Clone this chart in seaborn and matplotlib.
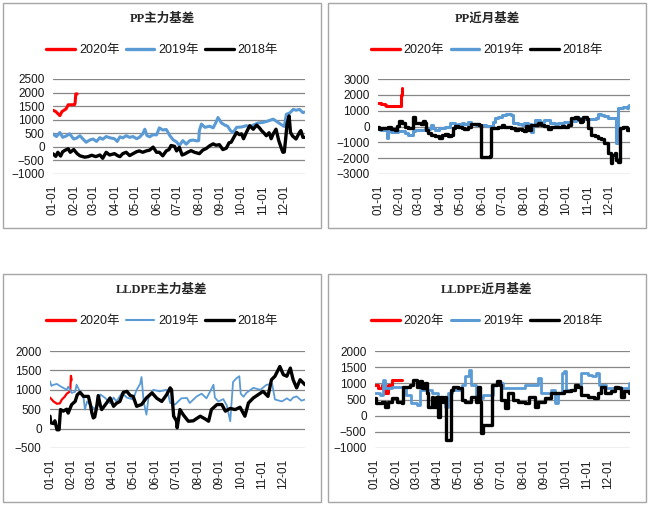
import numpy as np
import pandas as pd
import matplotlib
matplotlib.use('Agg')
from matplotlib import pyplot as plt
from matplotlib.patches import Rectangle
from matplotlib.lines import Line2D
import seaborn as sns

# ---- data (day of year, value) ----
months = ['01-01', '02-01', '03-01', '04-01', '05-01', '06-01',
          '07-01', '08-01', '09-01', '10-01', '11-01', '12-01']
month_days = [0, 31, 59, 90, 120, 151, 181, 212, 243, 273, 304, 334]
years = ['2020年', '2019年', '2018年']

# PP主力基差
pp_main_2020_x = [0, 4, 8, 10, 13, 16, 19, 22, 26, 31, 32, 33, 35]
pp_main_2020_y = [1350, 1300, 1200, 1150, 1300, 1350, 1400, 1550, 1550, 1550, 1600, 1950, 1950]
pp_main_2019_x = [0, 5, 10, 14, 19, 24, 30, 34, 39, 43, 48, 53, 58, 63, 68, 72, 77, 83, 89, 93,
                  97, 101, 106, 111, 116, 121, 125, 130, 133, 136, 140, 145, 150, 154, 159, 164,
                  166, 169, 174, 179, 183, 188, 193, 198, 203, 208, 211, 212, 215, 220, 227, 232,
                  236, 239, 244, 249, 253, 257, 261, 266, 273, 280, 285, 290, 297, 304, 311, 319,
                  326, 333, 335, 338, 343, 348, 352, 357, 362, 364]
pp_main_2019_y = [470, 380, 530, 350, 400, 480, 290, 320, 410, 300, 170, 250, 290, 200, 340, 280,
                  380, 330, 300, 200, 370, 330, 410, 350, 380, 300, 350, 480, 650, 420, 370, 450,
                  440, 700, 620, 640, 560, 420, 260, 180, 50, 230, 100, 230, 250, 220, 230, 600,
                  840, 720, 760, 700, 900, 1080, 880, 800, 760, 600, 530, 720, 730, 780, 740, 800,
                  880, 900, 950, 1020, 900, 780, 750, 1200, 1250, 1380, 1350, 1380, 1260, 1280]
pp_main_2018_x = [0, 4, 7, 11, 14, 18, 22, 25, 30, 35, 39, 46, 51, 56, 62, 68, 72, 77, 82, 89,
                  94, 97, 101, 106, 111, 116, 121, 125, 130, 135, 140, 145, 150, 154, 159, 164,
                  168, 171, 176, 179, 183, 187, 191, 195, 200, 205, 212, 217, 222, 227, 232, 236,
                  241, 246, 251, 255, 258, 263, 266, 270, 273, 276, 280, 285, 290, 295, 299, 302,
                  306, 309, 313, 316, 319, 323, 327, 331, 333, 335, 337, 339, 342, 344, 347, 352,
                  357, 359, 362, 364]
pp_main_2018_y = [-255, -350, -200, -340, -180, -120, -70, -200, -100, -250, -330, -380, -360,
                  -310, -360, -300, -420, -200, -300, -250, -330, -360, -250, -200, -320, -250,
                  -180, -150, -200, -150, -120, -10, -200, -200, -330, -150, -100, 50, 20, -150,
                  -20, -300, -260, -200, -140, -200, -250, -120, -60, 40, 110, 60, 80, -100, -50,
                  150, 170, 400, 530, 450, 480, 300, 530, 780, 650, 800, 700, 600, 500, 410, 520,
                  300, 480, 650, 230, -70, -200, -190, 300, 840, 1140, 530, 400, 290, 530, 600,
                  350, 350]

# PP近月基差
pp_near_2020_x = [0, 5, 10, 12, 17, 24, 33, 34, 35]
pp_near_2020_y = [1480, 1450, 1370, 1300, 1320, 1310, 1310, 2000, 2450]
pp_near_2019_x = [0, 5, 10, 12, 13, 14, 19, 29, 39, 43, 48, 51, 53, 60, 68, 75, 77, 80, 82, 89,
                  97, 104, 111, 116, 121, 125, 130, 135, 142, 150, 157, 164, 166, 169, 174, 179,
                  186, 193, 195, 203, 208, 212, 217, 222, 224, 227, 234, 241, 249, 256, 261, 270,
                  280, 287, 290, 297, 304, 311, 316, 319, 323, 328, 333, 340, 343, 345, 347, 348,
                  355, 360, 362, 364]
pp_near_2019_y = [-170, -200, -250, -200, -740, -250, -320, -300, -420, -530, -530, -300, -250,
                  -200, -150, -100, 100, -100, -210, -100, 0, 210, 100, 150, 250, 150, 300, 150,
                  100, 100, 50, 40, 300, 530, 600, 740, 760, 740, 210, 150, 100, 200, 150, -320,
                  100, 380, 300, 380, 250, 150, 250, 300, 320, 400, 530, 500, 450, 500, 550, 780,
                  700, 680, 550, 550, 530, -1060, 300, 1160, 1200, 1150, 1300, 1370]
pp_near_2018_x = [0, 2, 5, 10, 14, 19, 24, 28, 31, 35, 39, 43, 48, 51, 53, 58, 63, 65, 68, 70,
                  72, 77, 82, 89, 92, 97, 101, 106, 109, 111, 116, 121, 125, 130, 135, 140, 147,
                  149, 154, 162, 164, 169, 174, 179, 183, 188, 193, 198, 203, 208, 212, 215, 217,
                  222, 232, 236, 241, 246, 251, 256, 261, 266, 270, 275, 280, 285, 290, 292, 295,
                  297, 302, 304, 309, 314, 319, 323, 328, 333, 337, 339, 343, 345, 348, 350, 355,
                  360, 364]
pp_near_2018_y = [0, -150, -100, -100, 0, -150, -210, 50, 320, 250, 0, -100, -100, 590, 210,
                  200, 170, 350, 200, -200, -420, -550, -630, -740, -550, -450, -600, -530, -100,
                  50, -50, -100, -150, 0, 150, 170, 120, -1900, -1900, -1850, -110, -100, -50,
                  100, 0, -50, -100, -200, -150, -210, -300, 50, -200, 100, 200, 100, 50, -150,
                  -50, 0, -50, 50, 0, 100, 530, 580, 500, 300, 350, 600, 500, -100, -530, -600,
                  -740, -800, -1060, -1690, -2320, -1800, -1700, -2110, -2250, -100, -50, -200,
                  -170]

# LLDPE主力基差
ll_main_2020_x = [0, 5, 10, 14, 17, 21, 24, 28, 29, 30, 31]
ll_main_2020_y = [800, 700, 640, 650, 750, 820, 900, 950, 980, 1360, 1250]
ll_main_2019_x = [0, 2, 5, 10, 14, 19, 24, 26, 31, 36, 38, 43, 48, 50, 53, 57, 64, 69, 72, 79,
                  86, 91, 95, 103, 110, 119, 124, 129, 131, 134, 138, 141, 148, 157, 167, 169,
                  172, 179, 188, 196, 200, 210, 217, 224, 229, 234, 236, 241, 248, 253, 258, 260,
                  262, 267, 271, 273, 277, 281, 291, 301, 310, 318, 322, 332, 339, 344, 348, 353,
                  360, 365]
ll_main_2019_y = [1220, 1100, 1130, 1150, 1100, 1050, 1000, 1080, 920, 950, 1130, 950, 800, 490,
                  700, 620, 500, 700, 880, 790, 650, 800, 700, 920, 800, 750, 1000, 1150, 1330,
                  700, 360, 800, 1000, 960, 1000, 900, 660, 620, 780, 790, 660, 830, 900, 780,
                  950, 1130, 800, 700, 760, 600, 190, 700, 1200, 1300, 1350, 900, 820, 920, 1050,
                  1000, 1130, 1150, 750, 700, 780, 720, 800, 830, 720, 750]
ll_main_2018_x = [0, 1, 5, 7, 10, 13, 15, 19, 24, 26, 31, 36, 39, 43, 48, 55, 58, 60, 62, 64,
                  67, 69, 72, 74, 81, 86, 91, 95, 100, 105, 110, 115, 119, 124, 131, 138, 146,
                  153, 160, 167, 172, 174, 177, 181, 182, 186, 191, 198, 205, 215, 222, 227, 231,
                  239, 246, 251, 258, 265, 272, 279, 284, 291, 298, 305, 312, 317, 322, 329, 334,
                  339, 344, 348, 353, 358, 365]
ll_main_2018_y = [320, 150, 130, 200, -30, -30, 490, 450, 500, 400, 620, 700, 870, 935, 830, 830,
                  600, 400, 275, 300, 575, 850, 600, 490, 660, 790, 575, 650, 700, 935, 960, 850,
                  830, 575, 620, 790, 920, 780, 700, 875, 1050, 1000, 320, 200, 20, 490, 350,
                  190, 200, 320, 250, 190, 490, 620, 620, 450, 520, 490, 550, 320, 660, 790, 875,
                  960, 830, 1260, 1350, 1600, 1390, 1350, 1560, 1260, 1050, 1260, 1130]

# LLDPE近月基差
ll_near_2020_x = [0, 5, 10, 14, 19, 24, 38]
ll_near_2020_y = [955, 850, 955, 700, 955, 1110, 1110]
ll_near_2019_x = [0, 7, 12, 14, 24, 38, 45, 52, 60, 64, 71, 81, 90, 100, 105, 110, 119, 124, 129,
                  134, 138, 143, 145, 155, 164, 169, 176, 183, 195, 205, 214, 226, 233, 238, 252,
                  257, 262, 267, 271, 274, 286, 290, 295, 305, 310, 317, 321, 331, 343, 352, 364]
ll_near_2019_y = [700, 650, 1110, 850, 900, 900, 640, 385, 330, 800, 800, 700, 435, 280, 700,
                  800, 800, 955, 1215, 1420, 955, 955, 540, 640, 640, 955, 1005, 850, 850, 850,
                  955, 955, 1160, 700, 800, 385, 700, 1320, 1370, 800, 955, 900, 1320, 1265,
                  1215, 1320, 955, 850, 900, 850, 1005]
ll_near_2018_x = [0, 2, 10, 14, 19, 24, 31, 39, 40, 50, 55, 60, 64, 67, 71, 74, 76, 81, 83, 88,
                  90, 93, 98, 100, 101, 107, 109, 112, 119, 124, 129, 138, 145, 148, 150, 152,
                  155, 167, 168, 174, 179, 181, 186, 190, 198, 205, 214, 221, 229, 233, 243, 252,
                  262, 271, 281, 286, 290, 295, 305, 314, 319, 324, 329, 338, 343, 348, 352, 357,
                  364]
ll_near_2018_y = [540, 385, 435, 280, 435, 540, 435, 385, 900, 955, 1110, 900, 1060, 850, 1005,
                  700, 280, 590, 280, 590, -30, 590, 435, 590, -760, -760, 800, 900, 850, 490,
                  435, 590, 435, 900, 435, -550, -290, -290, 955, 1060, 955, 490, 230, 700, 490,
                  435, 385, 590, 280, 435, 540, 700, 700, 750, 800, 955, 900, 645, 590, 540, 700,
                  900, 700, 750, 900, 850, 590, 750, 700]

colors = ['#FF0000', '#5B9BD5', '#000000']

panels = [
    dict(title='PP主力基差', box=(3, 3, 321, 228), ax=(53, 79, 305, 174),
         ylim=(-1000, 2500), step=500, lws=[2.2, 2.2, 2.4], ds='default',
         series=[(pp_main_2020_x, pp_main_2020_y), (pp_main_2019_x, pp_main_2019_y),
                 (pp_main_2018_x, pp_main_2018_y)]),
    dict(title='PP近月基差', box=(328, 3, 646, 228), ax=(378, 79, 630, 174),
         ylim=(-3000, 3000), step=1000, lws=[2.2, 2.2, 2.4], ds='steps-post',
         series=[(pp_near_2020_x, pp_near_2020_y), (pp_near_2019_x, pp_near_2019_y),
                 (pp_near_2018_x, pp_near_2018_y)]),
    dict(title='LLDPE主力基差', box=(3, 274, 321, 502), ax=(50, 351, 305, 448),
         ylim=(-500, 2000), step=500, lws=[1.6, 1.3, 2.4], ds='default',
         series=[(ll_main_2020_x, ll_main_2020_y), (ll_main_2019_x, ll_main_2019_y),
                 (ll_main_2018_x, ll_main_2018_y)]),
    dict(title='LLDPE近月基差', box=(328, 274, 646, 502), ax=(375, 351, 630, 448),
         ylim=(-1000, 2000), step=500, lws=[2.2, 2.0, 2.4], ds='steps-post',
         series=[(ll_near_2020_x, ll_near_2020_y), (ll_near_2019_x, ll_near_2019_y),
                 (ll_near_2018_x, ll_near_2018_y)]),
]

sns.set_theme(style='white')
plt.rcParams['font.family'] = ['Liberation Sans', 'Noto Sans CJK SC', 'DejaVu Sans']

W, H = 650, 505
fig = plt.figure(figsize=(W / 100, H / 100), dpi=100)


def fx(px):
    return px / W


def fy(py):
    return 1 - py / H


for p in panels:
    x0, y0, x1, y1 = p['box']
    fig.patches.append(Rectangle((fx(x0), fy(y1)), fx(x1 - x0), (y1 - y0) / H,
                                 transform=fig.transFigure, fill=False,
                                 edgecolor='#A6A6A6', lw=1.0))
    l, t, r, b = p['ax']
    ax = fig.add_axes([fx(l), fy(b), fx(r - l), (b - t) / H])

    handles = []
    for (xs, ys), c, lw, name in zip(p['series'], colors, p['lws'], years):
        df = pd.DataFrame({'day': xs, 'val': ys})
        sns.lineplot(data=df, x='day', y='val', ax=ax, color=c, lw=lw,
                     estimator=None, sort=False, drawstyle=p['ds'])
        handles.append(Line2D([], [], color=c, lw=2.4 if c != '#5B9BD5' else p['lws'][1] + 0.2,
                              label=name))

    ax.set_xlim(0, 365)
    ax.set_ylim(*p['ylim'])
    ax.set_yticks(np.arange(p['ylim'][0], p['ylim'][1] + 1, p['step']))
    ax.set_xticks(month_days)
    ax.set_xticklabels(months, rotation=90)
    ax.set_xlabel('')
    ax.set_ylabel('')
    ax.yaxis.grid(True, color='#868686', lw=0.9)
    ax.xaxis.grid(False)
    for s in ax.spines.values():
        s.set_visible(False)
    ax.tick_params(axis='both', length=0, labelsize=8.5, colors='#1A1A1A')
    ax.tick_params(axis='y', pad=6)
    ax.tick_params(axis='x', pad=8)

    cx = (x0 + x1) / 2
    fig.text(fx(cx), fy(y0 + 16), p['title'], ha='center', va='center',
             fontsize=9, fontweight='bold',
             family=['Liberation Serif', 'Noto Sans CJK SC'])
    fig.legend(handles=handles, loc='center', bbox_to_anchor=(fx(cx), fy(y0 + 47)),
               ncol=3, frameon=False, fontsize=9, handlelength=2.3,
               handletextpad=0.3, columnspacing=0.5, labelcolor='#1A1A1A')

fig.savefig('out.png', dpi=100)
